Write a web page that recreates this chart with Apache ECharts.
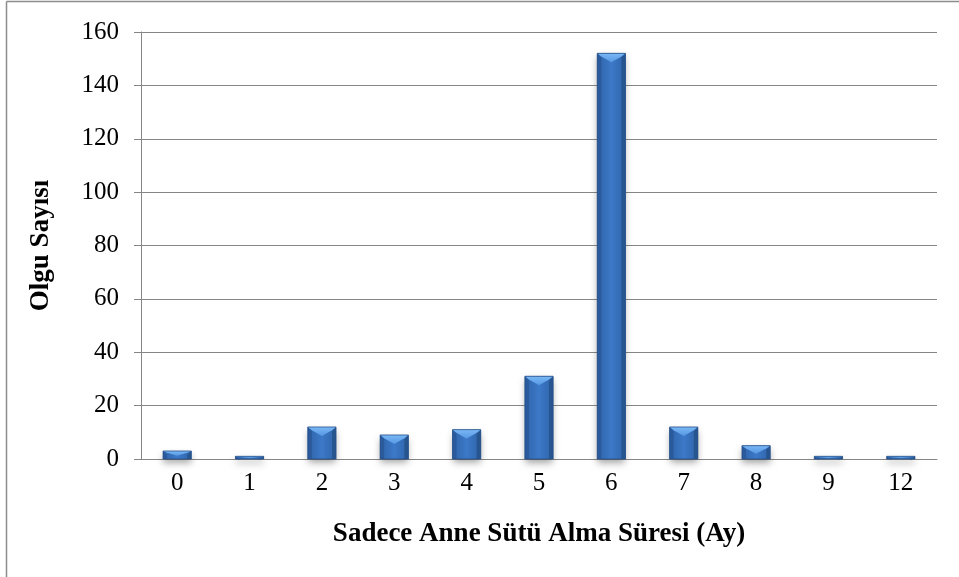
<!DOCTYPE html>
<html>
<head>
<meta charset="utf-8">
<style>
  html, body { margin: 0; padding: 0; background: #ffffff; }
  #chart { width: 959px; height: 577px; }
</style>
<script src="https://cdn.jsdelivr.net/npm/echarts@6/dist/echarts.min.js"></script>
</head>
<body>
<div id="chart"></div>
<script>
// Exclusive breastfeeding duration (months) and number of cases
const months = ['0', '1', '2', '3', '4', '5', '6', '7', '8', '9', '12'];
const cases = [3, 1, 12, 9, 11, 31, 152, 12, 5, 1, 1];
const yTicks = { min: 0, max: 160, interval: 20 };

const serif = '"Liberation Serif", "Times New Roman", serif';

// Bevelled bar: face, lit top bevel, darker side edges, outline and a soft drop shadow
function renderBevelBar(params, api) {
  const idx = api.value(0);
  const val = api.value(1);
  const top = api.coord([idx, val]);
  const base = api.coord([idx, 0]);
  const band = api.size([1, 0])[0];
  const w = band * 0.39;
  const x0 = top[0] - w / 2, x1 = top[0] + w / 2;
  const y0 = top[1], yb = base[1];
  const h = yb - y0;
  const bt = Math.max(0, Math.min(9, h * 0.6, w / 2));
  const bs = Math.max(0, Math.min(4, w / 4));

  const faceGrad = new echarts.graphic.LinearGradient(0, 0, 1, 0, [
    { offset: 0, color: '#2f63a8' },
    { offset: 0.5, color: '#3c79c8' },
    { offset: 1, color: '#2f63a8' }
  ]);
  const topGrad = new echarts.graphic.LinearGradient(0, 0, 0, 1, [
    { offset: 0, color: '#7ab8f5' },
    { offset: 1, color: '#5597e2' }
  ]);

  const children = [
    {
      type: 'rect',
      shape: { x: x0, y: y0, width: w, height: h },
      style: { fill: '#ffffff', shadowBlur: 7, shadowOffsetY: 4, shadowColor: 'rgba(0,0,0,0.35)' }
    },
    {
      type: 'rect',
      shape: { x: x0, y: y0, width: w, height: h },
      style: { fill: faceGrad }
    }
  ];
  if (h > 2) {
    children.push(
      { type: 'polygon', shape: { points: [[x0, y0], [x0 + bs, y0 + bs], [x0 + bs, yb], [x0, yb]] }, style: { fill: '#2a5a9c' } },
      { type: 'polygon', shape: { points: [[x1, y0], [x1 - bs, y0 + bs], [x1 - bs, yb], [x1, yb]] }, style: { fill: '#27558f' } }
    );
  }
  if (bt > 0.5) {
    children.push({
      type: 'polygon',
      shape: { points: [[x0, y0], [x1, y0], [x1 - bs, y0 + bt * 0.35], [top[0], y0 + bt], [x0 + bs, y0 + bt * 0.35]] },
      style: { fill: topGrad }
    });
  }
  children.push({
    type: 'rect',
    shape: { x: x0, y: y0, width: w, height: h },
    style: { fill: 'none', stroke: '#254f88', lineWidth: 0.8 }
  });
  return { type: 'group', children: children };
}

const chart = echarts.init(document.getElementById('chart'), null, { renderer: 'canvas' });

chart.setOption({
  backgroundColor: '#ffffff',
  animation: false,
  grid: { left: 141, right: 22, top: 32, bottom: 118 },
  xAxis: {
    type: 'category',
    data: months,
    name: 'Sadece Anne Sütü Alma Süresi (Ay)',
    nameLocation: 'middle',
    nameGap: 62,
    nameTextStyle: { fontFamily: serif, fontSize: 27, fontWeight: 'bold', color: '#000' },
    axisLine: { show: true, lineStyle: { color: '#868686', width: 1 } },
    axisTick: { show: false },
    axisLabel: { fontFamily: serif, fontSize: 25, color: '#000', margin: 12 },
    splitLine: { show: false }
  },
  yAxis: {
    type: 'value',
    min: yTicks.min,
    max: yTicks.max,
    interval: yTicks.interval,
    name: 'Olgu Sayısı',
    nameLocation: 'middle',
    nameGap: 86,
    nameTextStyle: { fontFamily: serif, fontSize: 27, fontWeight: 'bold', color: '#000' },
    axisLine: { show: true, lineStyle: { color: '#868686', width: 1 } },
    axisTick: { show: true, length: 7, lineStyle: { color: '#868686' } },
    axisLabel: { fontFamily: serif, fontSize: 25, color: '#000', margin: 22 },
    splitLine: { show: true, lineStyle: { color: '#868686', width: 1 } }
  },
  series: [{
    type: 'custom',
    renderItem: renderBevelBar,
    encode: { x: 0, y: 1 },
    data: cases.map((v, i) => [i, v]),
    z: 3
  }],
  graphic: [
    { type: 'line', shape: { x1: 6.5, y1: 1.5, x2: 959, y2: 1.5 }, style: { stroke: '#8c8c8c', lineWidth: 1.5 } },
    { type: 'line', shape: { x1: 6.5, y1: 1.5, x2: 6.5, y2: 577 }, style: { stroke: '#8c8c8c', lineWidth: 1.5 } }
  ]
});
</script>
</body>
</html>
